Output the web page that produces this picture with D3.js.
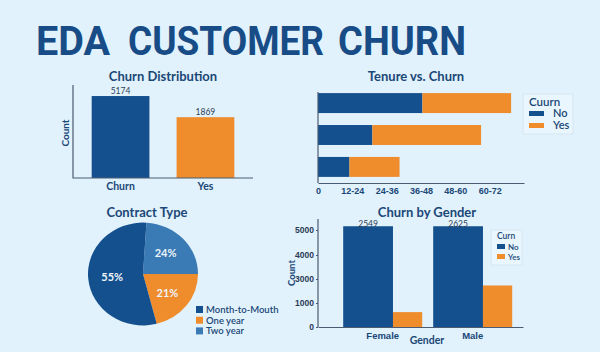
<!DOCTYPE html>
<html>
<head>
<meta charset="utf-8">
<script src="https://cdn.jsdelivr.net/npm/d3@7"></script>
<style>
  html, body { margin: 0; padding: 0; background: #e1f2fc; }
  svg { display: block; font-family: Lato, "Open Sans", sans-serif; }
</style>
</head>
<body>
<svg id="chart" width="600" height="352"></svg>
<script>
// ---- data ----
var churnCats = ["Churn", "Yes"];
var churnCounts = [5174, 1869];

var tenureGroups = ["long", "mid", "short"];
var tenureNo = [36.5, 19, 11];
var tenureYes = [31, 38, 17.5];
var tenureTicks = [0, 12, 24, 36, 48, 60];
var tenureTickLabels = ["0", "12-24", "24-36", "36-48", "48-60", "60-72"];

var contractTypes = ["Month-to-Mouth", "One year", "Two year"];
var contractPct = [55, 21, 24];

var genders = ["Female", "Male"];
var genderNo = [5150, 5150];
var genderYes = [620, 2460];
var genderNoLabels = ["2549", "2625"];
var genderTicks = [0, 1000, 3000, 4000, 5000];

var dark = "#15508e", orange = "#ef8c2c", mid = "#3a7ab5";
var ink = "#1b4777", axisCol = "#4b5b72";

var svg = d3.select("#chart");

// big title, three words placed like the picture
[["EDA", 36, 74], ["CUSTOMER", 128, 196], ["CHURN", 338, 128]].forEach(function(w){
  svg.append("text")
    .attr("x", w[1]).attr("y", 55)
    .attr("textLength", w[2]).attr("lengthAdjust", "spacingAndGlyphs")
    .style("font-family", "Roboto, 'Liberation Sans', sans-serif")
    .style("font-weight", 700).style("font-size", "40px")
    .attr("fill", "#174c86")
    .text(w[0]);
});

function title(x, y, t){
  svg.append("text").attr("x", x).attr("y", y)
    .attr("text-anchor", "middle")
    .style("font-size", "13px").style("font-weight", 700)
    .attr("fill", ink).text(t);
}

// ---- chart 1: churn distribution ----
title(163, 81, "Churn Distribution");
var x1 = d3.scaleBand().domain(churnCats).range([73, 253]).paddingInner(0.32).paddingOuter(0.22);
var y1 = d3.scaleLog().domain([100, 8800]).range([178, 85]);
var g1 = svg.append("g");
g1.selectAll("rect").data(churnCats).join("rect")
  .attr("x", d => x1(d)).attr("width", x1.bandwidth())
  .attr("y", (d, i) => y1(churnCounts[i]))
  .attr("height", (d, i) => 178 - y1(churnCounts[i]))
  .attr("fill", (d, i) => i == 0 ? dark : orange);
g1.selectAll("text.v").data(churnCats).join("text").classed("v", true)
  .attr("x", d => x1(d) + x1.bandwidth() / 2)
  .attr("y", (d, i) => y1(churnCounts[i]) - 2)
  .attr("text-anchor", "middle").style("font-size", "8.5px").attr("fill", "#2e3f58")
  .text((d, i) => churnCounts[i]);
g1.selectAll("text.c").data(churnCats).join("text").classed("c", true)
  .attr("x", d => x1(d) + x1.bandwidth() / 2).attr("y", 190)
  .attr("text-anchor", "middle").style("font-size", "10.5px").style("font-weight", 700)
  .attr("fill", ink).text(d => d);
g1.append("path").attr("d", "M73,85V178H253").attr("fill", "none").attr("stroke", axisCol).attr("stroke-width", 1.2);
svg.append("text").attr("transform", "translate(69,133) rotate(-90)")
  .attr("text-anchor", "middle").style("font-size", "10px").style("font-weight", 700)
  .attr("fill", ink).text("Count");

// ---- chart 2: tenure vs churn ----
title(416, 81, "Tenure vs. Churn");
var x2 = d3.scaleLinear().domain([0, 72]).range([318, 524]);
var y2 = d3.scaleBand().domain(tenureGroups).range([88, 182]).paddingInner(0.375).paddingOuter(0.16);
var g2 = svg.append("g");
g2.selectAll("rect.no").data(tenureGroups).join("rect").classed("no", true)
  .attr("x", x2(0)).attr("y", d => y2(d)).attr("height", y2.bandwidth())
  .attr("width", (d, i) => x2(tenureNo[i]) - x2(0)).attr("fill", dark);
g2.selectAll("rect.yes").data(tenureGroups).join("rect").classed("yes", true)
  .attr("x", (d, i) => x2(tenureNo[i])).attr("y", d => y2(d)).attr("height", y2.bandwidth())
  .attr("width", (d, i) => x2(tenureNo[i] + tenureYes[i]) - x2(tenureNo[i])).attr("fill", orange);
var ax2 = g2.append("g").attr("transform", "translate(0,183)")
  .call(d3.axisBottom(x2).tickValues(tenureTicks).tickSize(0).tickPadding(5)
    .tickFormat((d, i) => tenureTickLabels[i]));
ax2.select(".domain").attr("stroke", axisCol).attr("stroke-width", 1.2);
ax2.selectAll("text").style("font-size", "9px").style("font-weight", 700).attr("fill", ink);
g2.append("line").attr("x1", 318).attr("x2", 318).attr("y1", 92).attr("y2", 183)
  .attr("stroke", axisCol).attr("stroke-width", 1.2);

function legend(x, y, w, h, head, fs, sw, sh, rowGap, textX){
  var lg = svg.append("g").attr("transform", "translate(" + x + "," + y + ")");
  lg.append("rect").attr("width", w).attr("height", h)
    .attr("fill", "#e9f6fd").attr("stroke", "#d2e3ee").attr("stroke-width", 0.8);
  lg.append("text").attr("x", 6).attr("y", fs + 1).style("font-size", (fs + 0.5) + "px")
    .style("font-weight", 600).attr("fill", ink).text(head);
  ["No", "Yes"].forEach(function(k, i){
    var ry = fs + 6 + i * rowGap;
    lg.append("rect").attr("x", 6).attr("y", ry).attr("width", sw).attr("height", sh)
      .attr("fill", i == 0 ? dark : orange);
    lg.append("text").attr("x", textX).attr("y", ry + sh + 1).style("font-size", fs + "px")
      .style("font-weight", 600).attr("fill", ink).text(k);
  });
}
legend(523, 94, 50, 40, "Cuurn", 11, 15, 5, 12, 30);

// ---- chart 3: contract type ----
title(147, 217, "Contract Type");
var pieColors = d3.scaleOrdinal().domain(contractTypes).range([dark, orange, mid]);
var pieData = contractTypes.map((t, i) => ({type: t, value: contractPct[i]})).reverse();
var startA = (90 - 0.24 * 360) * Math.PI / 180;
var arcs = d3.pie().sort(null).value(d => d.value)
  .startAngle(startA).endAngle(startA + 2 * Math.PI)(pieData);
var R = 55;
var g3 = svg.append("g").attr("transform", "translate(143,274) scale(1,0.935)");
g3.selectAll("path").data(arcs).join("path")
  .attr("d", d3.arc().innerRadius(0).outerRadius(R))
  .attr("fill", d => pieColors(d.data.type));
var labelArc = d3.arc().innerRadius(31).outerRadius(31);
svg.append("g").attr("transform", "translate(143,274)")
  .selectAll("text").data(arcs).join("text")
  .attr("transform", d => "translate(" + labelArc.centroid(d) + ")")
  .attr("text-anchor", "middle").attr("dy", "0.35em")
  .style("font-size", "11px").style("font-weight", 700).attr("fill", "#eef4fa")
  .text(d => d.data.value + "%");
var pl = svg.append("g").attr("transform", "translate(196,306)");
contractTypes.forEach(function(t, i){
  pl.append("rect").attr("x", 0).attr("y", i * 10.7).attr("width", 7).attr("height", 7)
    .attr("fill", pieColors(t));
  pl.append("text").attr("x", 10).attr("y", i * 10.7 + 7).style("font-size", "9.5px")
    .style("font-weight", 600).attr("fill", ink).text(t);
});

// ---- chart 4: churn by gender ----
title(427, 217, "Churn by Gender");
var x4 = d3.scaleBand().domain(genders).range([318, 523]).paddingInner(0.122).paddingOuter(0.2).align(0.7);
var y4 = d3.scaleLinear().domain(genderTicks).range([327, 303, 279, 255, 230]);
var split = 0.63;
var g4 = svg.append("g");
g4.selectAll("rect.no").data(genders).join("rect").classed("no", true)
  .attr("x", d => x4(d)).attr("width", x4.bandwidth() * split)
  .attr("y", (d, i) => y4(genderNo[i])).attr("height", (d, i) => 327 - y4(genderNo[i]))
  .attr("fill", dark);
g4.selectAll("rect.yes").data(genders).join("rect").classed("yes", true)
  .attr("x", d => x4(d) + x4.bandwidth() * split).attr("width", x4.bandwidth() * (1 - split))
  .attr("y", (d, i) => y4(genderYes[i])).attr("height", (d, i) => 327 - y4(genderYes[i]))
  .attr("fill", orange);
g4.selectAll("text.v").data(genders).join("text").classed("v", true)
  .attr("x", d => x4(d) + x4.bandwidth() * split / 2)
  .attr("y", (d, i) => y4(genderNo[i]) + 1)
  .attr("text-anchor", "middle").style("font-size", "8.5px").attr("fill", "#2e3f58")
  .text((d, i) => genderNoLabels[i]);
var ax4 = g4.append("g").attr("transform", "translate(0,327)")
  .call(d3.axisBottom(x4).tickSize(0).tickPadding(5));
ax4.select(".domain").attr("stroke", axisCol).attr("stroke-width", 1.2);
ax4.selectAll("text").style("font-size", "9.5px").style("font-weight", 600).attr("fill", ink);
var ay4 = g4.append("g").attr("transform", "translate(318,0)")
  .call(d3.axisLeft(y4).tickValues(genderTicks).tickSize(2).tickPadding(2).tickFormat(d3.format("d")));
ay4.select(".domain").attr("d", "M0,219V327").attr("stroke", axisCol).attr("stroke-width", 1.2);
ay4.selectAll("line").attr("stroke", axisCol);
ay4.selectAll("text").style("font-size", "8.5px").style("font-weight", 700).attr("fill", "#2b3b55");
svg.append("text").attr("x", 427).attr("y", 344).attr("text-anchor", "middle")
  .style("font-size", "10.5px").style("font-weight", 700).attr("fill", ink).text("Gender");
svg.append("text").attr("transform", "translate(295,273) rotate(-90)")
  .attr("text-anchor", "middle").style("font-size", "9.5px").style("font-weight", 700)
  .attr("fill", ink).text("Count");
legend(491, 230, 31, 35, "Curn", 8, 8, 5, 10, 17);
</script>
</body>
</html>
